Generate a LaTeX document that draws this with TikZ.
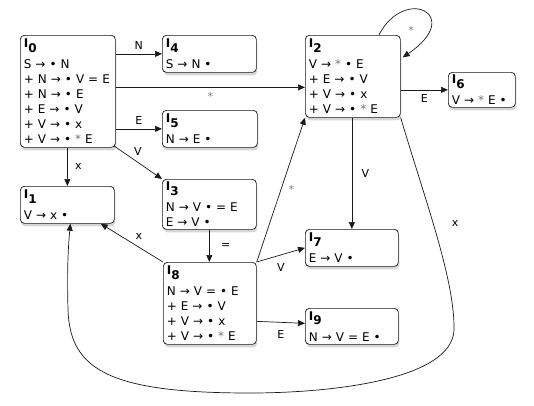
\documentclass[tikz,border=0pt]{standalone}
\usepackage{fontspec}
\setmainfont{DejaVu Sans}
\usetikzlibrary{arrows.meta,shadows}
\newcommand{\ttl}[1]{\textbf{I}\raisebox{-4.5pt}{\textbf{#1}}}
\newcommand{\st}{{\color{black!55}*}}
\begin{document}
\begin{tikzpicture}[x=1pt,y=-1pt,
 box/.style={draw=black!90, line width=0.7pt, rounded corners=4pt, fill=white, anchor=north west, align=left, inner xsep=3.5pt, inner ysep=2pt, font=\fontsize{12}{15}\selectfont, drop shadow={shadow xshift=1pt, shadow yshift=-3pt, fill=black!40, opacity=0.4}},
 edge/.style={draw=black!90, line width=0.7pt, -{Triangle[length=7pt,width=6pt]}},
 lbl/.style={font=\fontsize{11}{13}\selectfont},
 starl/.style={font=\fontsize{11}{13}\selectfont, text=black!50}]
\useasboundingbox (0,0) rectangle (534,405);

\node[box, text width=88pt, minimum height=112pt] (I0) at (20,35) {\ttl{0}\\[6pt]S → • N\\+ N → • V = E\\+ N → • E\\+ E → • V\\+ V → • x\\+ V → • \st{} E};
\node[box, text width=87pt, minimum height=37pt] (I4) at (162,35) {\ttl{4}\\[6pt]S → N •};
\node[box, text width=88pt, minimum height=37pt] (I5) at (162,110) {\ttl{5}\\[6pt]N → E •};
\node[box, text width=87pt, minimum height=37pt] (I1) at (20,186) {\ttl{1}\\[6pt]V → x •};
\node[box, text width=87pt, minimum height=50pt] (I3) at (162,179) {\ttl{3}\\[6pt]N → V • = E\\E → V •};
\node[box, text width=86pt, minimum height=82pt] (I8) at (163,262) {\ttl{8}\\[6pt]N → V = • E\\+ E → • V\\+ V → • x\\+ V → • \st{} E};
\node[box, text width=88pt, minimum height=82pt] (I2) at (305,35) {\ttl{2}\\[6pt]V → \st{} • E\\+ E → • V\\+ V → • x\\+ V → • \st{} E};
\node[box, text width=60pt, minimum height=35pt] (I6) at (448,72) {\ttl{6}\\[6pt]V → \st{} E •};
\node[box, text width=86pt, minimum height=37pt] (I7) at (305,229) {\ttl{7}\\[6pt]E → V •};
\node[box, text width=86pt, minimum height=36pt] (I9) at (305,308) {\ttl{9}\\[6pt]N → V = E •};

\draw[edge] (I4.west -| I0.east) -- node[lbl, above=1pt] {N} (I4.west);
\draw[edge] ([yshift=4pt]I0.east) -- node[starl, below=1pt] {*} ([yshift=4pt]I0.east -| I2.west);
\draw[edge] (I5.west -| I0.east) -- node[lbl, above=1pt] {E} (I5.west);
\draw[edge] (I0.south -| I1.north) -- node[lbl, right=4pt] {x} (I1.north);
\draw[edge] ([xshift=-2pt,yshift=2pt]I0.south east) -- node[lbl, above=3pt] {V} (I3.north west);
\draw[edge] (I3.south) -- node[lbl, right=8pt] {=} (I3.south |- I8.north);
\draw[edge] (I8.north west) -- node[lbl, above right=0pt] {x} ([xshift=-14pt]I1.south east);
\draw[edge] (I8.north east) -- node[starl, right=4pt] {*} (I2.south west);
\draw[edge] (I8.north east) -- node[lbl, below=5pt] {V} (I7.west);
\draw[edge] ([yshift=-18pt]I8.east) -- node[lbl, below=4pt] {E} ([yshift=3pt]I9.west);
\draw[edge] (I2.south -| I7.north) -- node[lbl, right=6pt] {V} (I7.north);
\draw[edge] (I6.west -| I2.east) -- node[lbl, below=1pt] {E} (I6.west);
\draw[edge] ([xshift=26pt]I2.north) .. controls (405,-15) and (465,15) .. ([xshift=2pt,yshift=19pt]I2.east);
\node[starl] (sl) at (411,30) {*};
\draw[edge] (I2.south east) .. controls (425,200) and (455,280) .. (454,330) .. controls (452,380) and (330,393) .. (250,393) .. controls (110,393) and (70,370) .. (68,310) .. controls (67,270) and (68,250) .. ([xshift=3pt]I1.south);
\node[lbl] (lx) at (455,223) {x};
\end{tikzpicture}
\end{document}
